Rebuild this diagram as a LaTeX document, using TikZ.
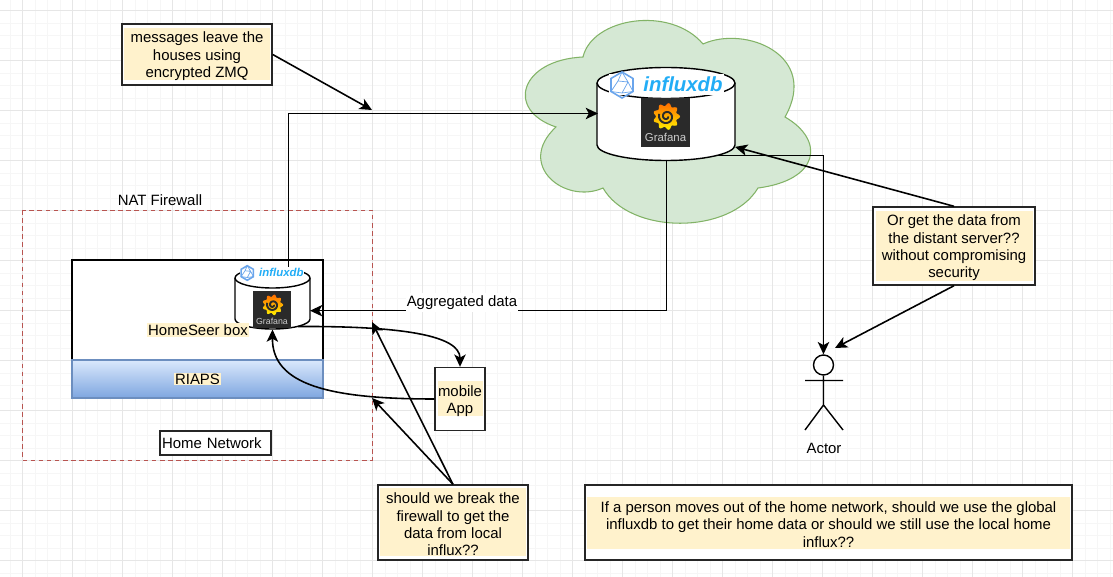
\documentclass[tikz,border=0pt]{standalone}
\usepackage{fontspec}
\setmainfont{Liberation Sans}
\usetikzlibrary{arrows.meta}
\definecolor{hlfill}{HTML}{FFF2CC}
\definecolor{cloudfill}{HTML}{D5E8D4}
\definecolor{cloudline}{HTML}{82B366}
\definecolor{fwline}{HTML}{B85450}
\definecolor{riapstop}{HTML}{DAE8FC}
\definecolor{riapsbottom}{HTML}{7EA6E0}
\definecolor{riapsline}{HTML}{6C8EBF}
\definecolor{gridmajor}{HTML}{E6E6E6}
\definecolor{gridminor}{HTML}{F6F6F6}
\definecolor{influxblue}{HTML}{22ADF6}
\definecolor{hexblue}{HTML}{6AA5EC}
\definecolor{gfdark}{HTML}{2A2A2A}
\newlength\pxunit
\setlength\pxunit{0.02cm}
\setlength\fboxsep{0pt}
\newcommand\notefont{\fontsize{8.5pt}{9.9pt}\selectfont}
\newcommand\hlbox[3]{\colorbox{hlfill}{\parbox[c][#2\pxunit][c]{#1\pxunit}{\centering\vspace*{4\pxunit}#3}}}
\newcommand\dbbody[5]{
  \draw[black,fill=white,line width=.8pt] (#1,#2) -- (#1,#3) arc[start angle=180,end angle=360,x radius=#4\pxunit,y radius=#5\pxunit] -- ++(0,{#2-#3}) arc[start angle=0,end angle=180,x radius=#4\pxunit,y radius=#5\pxunit] -- cycle;
  \draw[black,line width=.8pt] (#1,#2) arc[start angle=180,end angle=360,x radius=#4\pxunit,y radius=#5\pxunit];
}
\tikzset{
  notebox/.style={draw=black!85,fill=white,line width=.8pt,inner sep=0pt},
  hllabel/.style={fill=hlfill,inner sep=.6pt},
  dbspot/.style={inner sep=0pt,outer sep=0pt},
  conn/.style={black,line width=.9pt,-{Stealth[length=7pt,width=6.5pt,inset=1.8pt]}},
  pics/influxlogo/.style={code={
    \fill[white] (-62,-11) rectangle (53,10);
    \draw[hexblue,line width=.9pt] (-49,-13)--(-38,-6.5)--(-38,6.5)--(-49,13)--(-60,6.5)--(-60,-6.5)--cycle;
    \draw[hexblue,line width=.4pt] (-49,-13)--(-43,-3)--(-38,6.5)--(-49,8)--(-60,6.5)--(-53,-4)--cycle (-53,-4)--(-43,-3) (-49,8)--(-43,-3);
    \node[transform shape,inner sep=0pt,text=influxblue,font=\fontsize{11.6pt}{12pt}\bfseries\itshape\selectfont] (label) at (12,-1) {influxdb};
  }},
  pics/grafanalogo/.style={code={
    \fill[gfdark] (-24.5,-24.5) rectangle (24.5,24.5);
    \shade[top color=orange!85!red,bottom color=yellow!90!orange] plot[domain=0:360,samples=91,smooth] ({1+(12+1.5*cos(9*\x))*cos(\x)},{-6+(12+1.5*cos(9*\x))*sin(\x)});
    \draw[gfdark,line width=1.1pt] plot[domain=0:560,samples=40,smooth] ({1+(1.5+\x/90)*cos(\x)},{-6+(1.5+\x/90)*sin(\x)});
    \node[transform shape,inner sep=0pt,text=black!20,font=\fontsize{6.5pt}{7pt}\selectfont] (label) at (0,15) {Grafana};
  }},
}
\begin{document}
\begin{tikzpicture}[x=0.02cm,y=-0.02cm,every node/.style={font=\notefont}]
\useasboundingbox (0,0) rectangle (1113,577);
\fill[white] (0,0) rectangle (1113,577);
\foreach \k in {0,...,88} \draw[gridminor,line width=.5pt] ({10+12.5*\k},0)--({10+12.5*\k},577);
\foreach \k in {0,...,46} \draw[gridminor,line width=.5pt] (0,{-2+12.5*\k})--(1113,{-2+12.5*\k});
\foreach \k in {0,...,21} \draw[gridmajor,line width=.6pt] ({22.5+50*\k},0)--({22.5+50*\k},577);
\foreach \k in {0,...,11} \draw[gridmajor,line width=.6pt] (0,{10.5+50*\k})--(1113,{10.5+50*\k});

\draw[cloudline,fill=cloudfill,line width=.6pt] (583,57) .. controls (592,18) and (670,5) .. (703,44)
  .. controls (745,25) and (820,55) .. (785,117) .. controls (825,140) and (820,180) .. (758,188)
  .. controls (730,235) and (630,235) .. (603,188) .. controls (565,205) and (515,165) .. (556,127)
  .. controls (505,110) and (520,60) .. (583,57) -- cycle;
\draw[fwline,dash pattern=on 2.6pt off 2pt,line width=.5pt] (22,210) rectangle (372,460);

\node[draw=black,fill=white,line width=.8pt,minimum width=251\pxunit,minimum height=100\pxunit,inner sep=0pt](homebox) at (197.5,310) {};
\node[top color=riapstop,bottom color=riapsbottom,draw=riapsline,line width=.6pt,minimum width=251\pxunit,minimum height=38\pxunit,inner sep=0pt](riapsbox) at (197.5,379) {};
\node[hllabel](riapslabel) at (197.5,379) {RIAPS};
\dbbody{597}{83}{145}{69}{15.5}
\dbbody{235}{278}{319}{37.5}{10}
\node[dbspot,minimum width=137\pxunit,minimum height=93\pxunit](bigdb) at (666.5,113.5) {};
\node[dbspot,minimum width=75\pxunit,minimum height=62\pxunit](smalldb) at (272.5,298.5) {};
\node[hllabel](homelabel) at (198,330) {HomeSeer box};

\node[notebox,minimum width=150\pxunit,minimum height=61\pxunit](msgbox) at (197,54.5) {\hlbox{146}{52}{messages leave the\\houses using\\encrypted ZMQ}};
\node[notebox,minimum width=162\pxunit,minimum height=78\pxunit](orgbox) at (954,246) {\hlbox{157}{70}{Or get the data from\\the distant server??\\without compromising\\security}};
\node[notebox,minimum width=150\pxunit,minimum height=75\pxunit](shouldbox) at (453,522.5) {\hlbox{146}{68}{should we break the\\firewall to get the\\data from local\\influx??}};
\node[notebox,minimum width=487\pxunit,minimum height=75\pxunit](personbox) at (828.5,522.5) {\hlbox{483}{52}{If a person moves out of the home network, should we use the global\\influxdb to get their home data or should we still use the local home\\influx??}};
\node[notebox,minimum width=50\pxunit,minimum height=63\pxunit](mobilebox) at (460,399) {\hlbox{45}{35}{mobile\\App}};
\node[notebox,minimum width=111\pxunit,minimum height=24\pxunit,text width=107\pxunit,align=left](homenet) at (215.5,443) {Home Network};
\node[inner sep=0pt](natlabel) at (160,200) {NAT Firewall};

\node[circle,draw=black,fill=white,line width=.8pt,minimum size=20\pxunit,inner sep=0pt](actorhead) at (823.5,365) {};
\node[inner sep=0pt](actorlabel) at (824,448) {Actor};
\draw[line width=.8pt] (actorhead.south)--(823.5,405)--(805,430) (823.5,405)--(843,430) (805,380.5)--(843,380.5);

\coordinate(zmqend) at (372,110);
\coordinate(actorend) at (835,348);
\coordinate(wallhigh) at (372,322);
\coordinate(walllow) at (372,398);
\coordinate(smalltop) at (288.5,268);
\coordinate(smallrim) at (298,326.5);
\coordinate(bigrim) at (717,155.5);

\draw[conn] (msgbox.east)--(zmqend);
\draw[conn] (smalltop) |- (bigdb.west);
\draw[conn] (bigdb.south) |- (smalldb.-18.5);
\draw[conn] (bigrim) -| (actorhead.north);
\draw[conn] (orgbox.north)--(bigdb.-26);
\draw[conn] (orgbox.south)--(actorend);
\draw[conn] (shouldbox.north)--(wallhigh);
\draw[conn] (shouldbox.north)--(walllow);
\draw[conn] (smallrim) .. controls (400,326) and (460,335) .. (mobilebox.north);
\draw[conn] (mobilebox.west) .. controls (330,399) and (272,385) .. (smalldb.south);
\node[fill=white,inner sep=.5pt,minimum height=19\pxunit](agglabel) at (462,302.5) {Aggregated data};

\pic(biginflux) at (671,85) {influxlogo};
\pic(biggrafana) at (665.5,122.5) {grafanalogo};
\pic[scale=.56](smallinflux) at (274.7,273) {influxlogo};
\pic[scale=.77](smallgrafana) at (272,309.5) {grafanalogo};
\end{tikzpicture}
\end{document}
